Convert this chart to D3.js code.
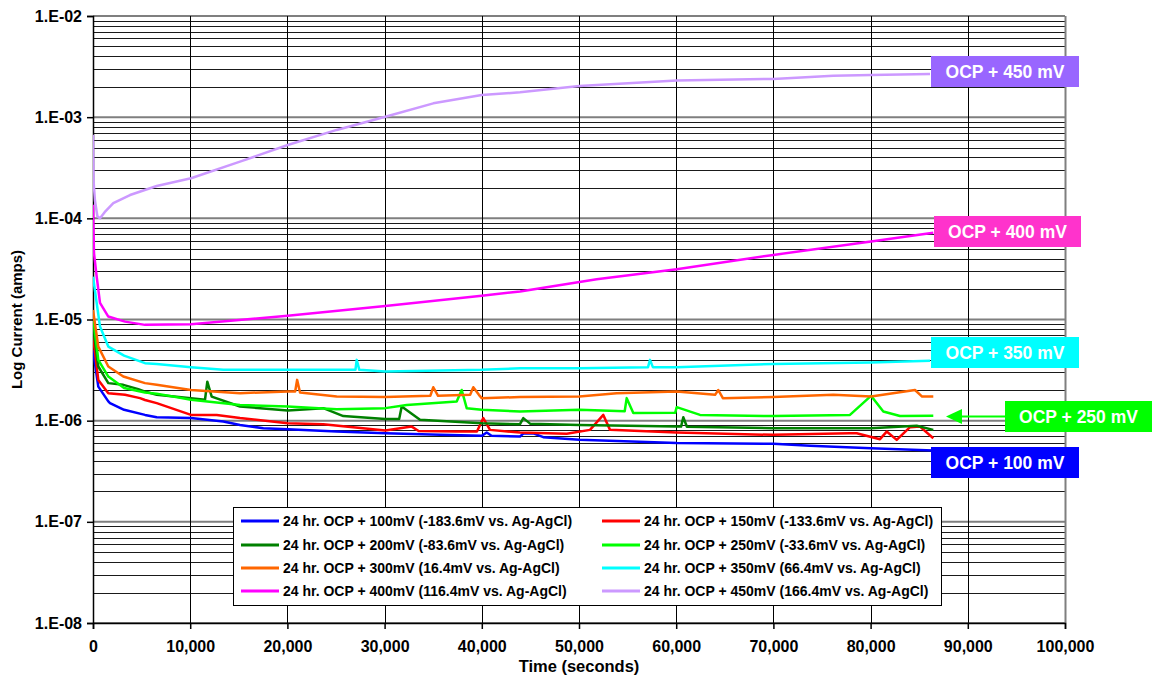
<!DOCTYPE html>
<html>
<head>
<meta charset="utf-8">
<script src="https://cdn.jsdelivr.net/npm/d3@7"></script>
<style>
  html, body { margin: 0; padding: 0; background: #fff; }
  svg { display: block; font-family: "Liberation Sans", Arial, sans-serif; }
</style>
</head>
<body>
<svg id="chart" width="1152" height="679"></svg>
<script>
// ---------- data (time in seconds, current in amps) ----------
const ocp100 = [[0,5.0e-6],[545,2.17e-6],[1574,1.55e-6],[1749,1.49e-6],[3200,1.28e-6],[5350,1.14e-6],[6553,1.08e-6],[10082,1.06e-6],[13405,9.8e-7],[15123,9.08e-7],[17520,8.43e-7],[20031,8.24e-7],[25072,7.8e-7],[30072,7.52e-7],[35700,7.24e-7],[39990,7.08e-7],[40504,7.63e-7],[41000,7.1e-7],[43930,6.97e-7],[44270,7.45e-7],[45299,7.5e-7],[46327,6.87e-7],[50031,6.46e-7],[60052,6.0e-7],[69990,5.9e-7],[73765,5.64e-7],[80041,5.35e-7],[86450,5.07e-7]];
const ocp150 = [[0,6.8e-6],[545,2.53e-6],[1574,1.87e-6],[3292,1.80e-6],[4835,1.67e-6],[5350,1.6e-6],[6553,1.49e-6],[10082,1.14e-6],[12726,1.14e-6],[15123,1.06e-6],[20031,9.44e-7],[23693,9.23e-7],[30072,7.98e-7],[32788,8.74e-7],[33500,7.9e-7],[37418,7.8e-7],[39500,7.8e-7],[40154,1.06e-6],[40844,8.11e-7],[43930,7.63e-7],[48735,7.41e-7],[51132,8.11e-7],[52500,1.14e-6],[53190,8.11e-7],[60052,7.63e-7],[69990,7.24e-7],[77880,7.52e-7],[78570,7.52e-7],[80967,6.56e-7],[81656,7.8e-7],[82685,6.46e-7],[84053,8.63e-7],[85082,8.74e-7],[86450,6.71e-7]];
const ocp200 = [[0,8.5e-6],[545,3.43e-6],[1574,2.35e-6],[3117,2.26e-6],[4660,2.05e-6],[5350,1.94e-6],[6553,1.80e-6],[10082,1.67e-6],[11523,1.61e-6],[11760,2.43e-6],[12212,1.73e-6],[15123,1.38e-6],[20031,1.26e-6],[23693,1.33e-6],[25751,1.11e-6],[30072,1.04e-6],[31500,1.04e-6],[31759,1.38e-6],[33642,1.02e-6],[39990,9.44e-7],[43930,9.23e-7],[44270,1.06e-6],[45000,9.3e-7],[50031,9.08e-7],[60052,8.74e-7],[60500,8.74e-7],[60730,1.08e-6],[61100,8.7e-7],[69990,8.43e-7],[80041,8.43e-7],[84743,8.89e-7],[86450,8.11e-7]];
const ocp250 = [[0,1.07e-5],[545,3.99e-6],[1574,2.73e-6],[3200,2.1e-6],[5350,1.9e-6],[6553,1.85e-6],[10082,1.61e-6],[15123,1.43e-6],[20031,1.38e-6],[25072,1.30e-6],[30072,1.33e-6],[32274,1.43e-6],[37418,1.55e-6],[37932,2.01e-6],[38447,1.33e-6],[39990,1.28e-6],[43930,1.23e-6],[50031,1.28e-6],[54700,1.24e-6],[54908,1.67e-6],[55586,1.19e-6],[59900,1.2e-6],[60052,1.36e-6],[62449,1.14e-6],[69990,1.11e-6],[77880,1.14e-6],[80041,1.76e-6],[81307,1.23e-6],[83025,1.11e-6],[86450,1.12e-6]];
const ocp300 = [[0,1.24e-5],[545,5.4e-6],[1574,3.43e-6],[3117,2.73e-6],[5350,2.35e-6],[6553,2.26e-6],[10082,2.01e-6],[15123,1.87e-6],[20031,1.94e-6],[20800,1.94e-6],[21000,2.53e-6],[21300,1.9e-6],[25072,1.73e-6],[30072,1.71e-6],[34700,1.76e-6],[35010,2.14e-6],[35500,1.76e-6],[38800,1.8e-6],[39126,2.14e-6],[39700,1.8e-6],[39990,1.67e-6],[43930,1.71e-6],[50031,1.73e-6],[53879,1.87e-6],[60052,1.94e-6],[64000,1.8e-6],[64331,2.01e-6],[64800,1.67e-6],[69990,1.71e-6],[76163,1.80e-6],[80041,1.73e-6],[84568,2.01e-6],[85300,1.73e-6],[86450,1.73e-6]];
const ocp350 = [[0,2.65e-5],[720,8.51e-6],[1574,5.4e-6],[3200,4.4e-6],[5350,3.7e-6],[6553,3.64e-6],[10082,3.38e-6],[13405,3.18e-6],[20031,3.18e-6],[27000,3.18e-6],[27130,3.99e-6],[27400,3.18e-6],[30072,3.06e-6],[39990,3.18e-6],[43930,3.30e-6],[50031,3.30e-6],[57100,3.38e-6],[57305,3.99e-6],[57600,3.38e-6],[60052,3.38e-6],[69990,3.64e-6],[80041,3.75e-6],[86111,3.90e-6]];
const ocp400 = [[0,1.36e-4],[100,4.55e-5],[380,2.65e-5],[720,1.46e-5],[1574,1.07e-5],[3292,9.53e-6],[5350,8.85e-6],[10082,8.99e-6],[20031,1.09e-5],[30072,1.36e-5],[39990,1.72e-5],[43930,1.89e-5],[51821,2.50e-5],[60052,3.14e-5],[69990,4.35e-5],[80041,5.89e-5],[86450,7.22e-5]];
const ocp450 = [[0,6.7e-4],[50,2.4e-4],[200,1.5e-4],[450,1.05e-4],[720,1.0e-4],[1200,1.15e-4],[2088,1.41e-4],[3807,1.70e-4],[6553,2.09e-4],[10082,2.49e-4],[15123,3.63e-4],[20031,5.31e-4],[25072,7.48e-4],[30072,1.01e-3],[35010,1.37e-3],[39990,1.66e-3],[43930,1.76e-3],[50031,2.03e-3],[60052,2.30e-3],[69990,2.39e-3],[76163,2.57e-3],[80041,2.61e-3],[86111,2.67e-3]];

const seriesNames = [
  "24 hr. OCP + 100mV (-183.6mV vs. Ag-AgCl)",
  "24 hr. OCP + 150mV (-133.6mV vs. Ag-AgCl)",
  "24 hr. OCP + 200mV (-83.6mV vs. Ag-AgCl)",
  "24 hr. OCP + 250mV (-33.6mV vs. Ag-AgCl)",
  "24 hr. OCP + 300mV (16.4mV vs. Ag-AgCl)",
  "24 hr. OCP + 350mV (66.4mV vs. Ag-AgCl)",
  "24 hr. OCP + 400mV (116.4mV vs. Ag-AgCl)",
  "24 hr. OCP + 450mV (166.4mV vs. Ag-AgCl)"
];
const seriesColors = ["#0000ff","#ff0000","#008000","#00ff00","#ff6600","#00ffff","#ff00ff","#cc99ff"];
const seriesData = [ocp100, ocp150, ocp200, ocp250, ocp300, ocp350, ocp400, ocp450];

const xTicks = [0,10000,20000,30000,40000,50000,60000,70000,80000,90000,100000];
const yTicks = [1e-8,1e-7,1e-6,1e-5,1e-4,1e-3,1e-2];

const calloutLabels = ["OCP + 450 mV","OCP + 400 mV","OCP + 350 mV","OCP + 250 mV","OCP + 100 mV"];
const calloutColors = ["#9966ff","#ff33cc","#00ffff","#00ff00","#0000ff"];

// ---------- layout ----------
const svg = d3.select("#chart");
const L = 93, R = 1065, T = 16, B = 623;
const x = d3.scaleLinear().domain([0,100000]).range([L,R]);
const y = d3.scaleLog().domain([1e-8,1e-2]).range([B,T]);
const FONT = "'Liberation Sans', Arial, sans-serif";

svg.append("rect").attr("width",1152).attr("height",679).attr("fill","#fff");

// minor horizontal gridlines
const minor = [];
yTicks.slice(0,-1).forEach(d => { for (let k=2;k<=9;k++) minor.push(d*k); });
svg.append("g").selectAll("line").data(minor).join("line")
  .attr("x1",L).attr("x2",R)
  .attr("y1",d=>Math.round(y(d))+0.5).attr("y2",d=>Math.round(y(d))+0.5)
  .attr("stroke","#1a1a1a").attr("stroke-width",1);
// major horizontal gridlines
svg.append("g").selectAll("line").data(yTicks).join("line")
  .attr("x1",L).attr("x2",R)
  .attr("y1",d=>y(d)).attr("y2",d=>y(d))
  .attr("stroke","#7f7f7f").attr("stroke-width",2);
// vertical gridlines
svg.append("g").selectAll("line").data(xTicks.slice(1)).join("line")
  .attr("x1",d=>Math.round(x(d))+0.5).attr("x2",d=>Math.round(x(d))+0.5)
  .attr("y1",T).attr("y2",B)
  .attr("stroke",d=>d===100000?"#7f7f7f":"#000").attr("stroke-width",d=>d===100000?2:1);

// axes
const yAxis = d3.axisLeft(y).tickValues(yTicks).tickSize(6).tickPadding(5)
  .tickFormat(d => "1.E-" + String(Math.round(-Math.log10(d))).padStart(2,"0"));
const gy = svg.append("g").attr("transform",`translate(${L},0)`).call(yAxis);
gy.select(".domain").attr("stroke","#000").attr("stroke-width",1.5);
gy.selectAll(".tick line").attr("stroke","#000").attr("stroke-width",1.5);
gy.selectAll("text").attr("font-family",FONT).attr("font-weight","bold").attr("font-size",16).attr("fill","#000");

const xAxis = d3.axisBottom(x).tickValues(xTicks).tickSize(6).tickPadding(12)
  .tickFormat(d3.format(","));
const gx = svg.append("g").attr("transform",`translate(0,${B})`).call(xAxis);
gx.select(".domain").attr("stroke","#000").attr("stroke-width",1.5);
gx.selectAll(".tick line").attr("stroke","#000").attr("stroke-width",1.5);
gx.selectAll("text").attr("font-family",FONT).attr("font-weight","bold").attr("font-size",16).attr("fill","#000");

// axis titles
svg.append("text").attr("x",(L+R)/2).attr("y",672).attr("text-anchor","middle")
  .attr("font-family",FONT).attr("font-weight","bold").attr("font-size",16.5).text("Time (seconds)");
svg.append("text").attr("transform",`translate(22,${(T+B)/2}) rotate(-90)`).attr("text-anchor","middle")
  .attr("font-family",FONT).attr("font-weight","bold").attr("font-size",15).text("Log Current (amps)");

// series lines
svg.append("clipPath").attr("id","clip").append("rect").attr("x",L).attr("y",T).attr("width",R-L).attr("height",B-T);
const line = d3.line().x(d=>x(d[0])).y(d=>y(d[1]));
svg.append("g").attr("clip-path","url(#clip)").selectAll("path").data(seriesData).join("path")
  .attr("d",line).attr("fill","none")
  .attr("stroke",(d,i)=>seriesColors[i]).attr("stroke-width",2.5).attr("stroke-linejoin","round");

// legend
const lg = svg.append("g");
lg.append("rect").attr("x",233.5).attr("y",507.5).attr("width",708).attr("height",98)
  .attr("fill","#fff").attr("stroke","#000").attr("stroke-width",1);
const rowsY = [521,545,568,591];
seriesNames.forEach((name,i) => {
  const col = i % 2, row = Math.floor(i/2);
  const lx = col === 0 ? 241 : 602;
  const yy = rowsY[row];
  lg.append("line").attr("x1",lx).attr("x2",lx+38).attr("y1",yy).attr("y2",yy)
    .attr("stroke",seriesColors[i]).attr("stroke-width",3);
  lg.append("text").attr("x",lx+42).attr("y",yy+5)
    .attr("font-family",FONT).attr("font-weight","bold").attr("font-size",14).text(name);
});

// callout boxes
const boxes = [
  {x:931, y:56, w:148, h:31},
  {x:934, y:216, w:147, h:31},
  {x:931, y:337, w:148, h:31},
  {x:1005, y:401, w:147, h:31},
  {x:931, y:447, w:148, h:31}
];
boxes.forEach((b,i) => {
  svg.append("rect").attr("x",b.x).attr("y",b.y).attr("width",b.w).attr("height",b.h).attr("fill",calloutColors[i]);
  svg.append("text").attr("x",b.x+b.w/2).attr("y",b.y+b.h/2+6).attr("text-anchor","middle")
    .attr("font-family",FONT).attr("font-weight","bold").attr("font-size",17.5).attr("fill","#fff")
    .text(calloutLabels[i]);
});
// arrow for 250 mV
svg.append("line").attr("x1",1005).attr("x2",960).attr("y1",416.5).attr("y2",416.5)
  .attr("stroke","#00ff00").attr("stroke-width",2);
svg.append("path").attr("d","M946,416.5 L962,409 L962,424 Z").attr("fill","#00ff00");
</script>
</body>
</html>
